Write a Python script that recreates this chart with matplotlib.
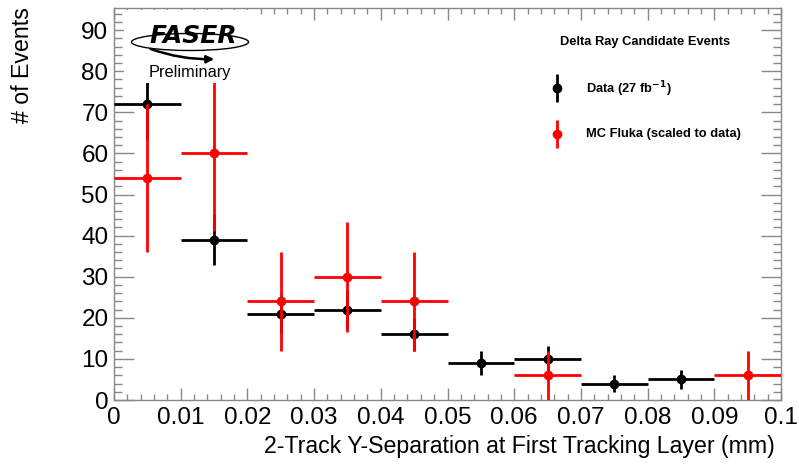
import matplotlib
matplotlib.use("Agg")
import matplotlib.pyplot as plt
from matplotlib.patches import Ellipse, FancyArrowPatch, Rectangle
from matplotlib.ticker import MultipleLocator, FixedLocator
import numpy as np

plt.rcParams['font.family'] = ['Liberation Sans', 'DejaVu Sans']

bin_edges = [0.0, 0.01, 0.02, 0.03, 0.04, 0.05, 0.06, 0.07, 0.08, 0.09, 0.1]
data_counts = [72, 39, 21, 22, 16, 9, 10, 4, 5, 0]
mc_counts = [54, 60, 24, 30, 24, 0, 6, 0, 0, 6]
mc_scale = 6.0
x_ticks = [0, 0.01, 0.02, 0.03, 0.04, 0.05, 0.06, 0.07, 0.08, 0.09, 0.1]
x_tick_labels = ["0", "0.01", "0.02", "0.03", "0.04", "0.05", "0.06", "0.07", "0.08", "0.09", "0.1"]
y_ticks = [0, 10, 20, 30, 40, 50, 60, 70, 80, 90]

fig = plt.figure(figsize=(7.99, 4.66), dpi=100)
ax = fig.add_axes([0.1427, 0.1416, 0.8348, 0.8414])

edges = np.array(bin_edges)
centers = 0.5 * (edges[:-1] + edges[1:])
half = 0.5 * np.diff(edges)

# Poisson errors; the simulation is scaled, so its error grows with sqrt(scale)
data_vals = np.array(data_counts, float)
data_err = np.sqrt(data_vals)
mc_vals = np.array(mc_counts, float)
mc_err = np.sqrt(mc_vals * mc_scale)


def draw_series(vals, errs, color, z):
    keep = vals > 0
    ax.errorbar(centers[keep], vals[keep], xerr=half[keep], yerr=errs[keep],
                fmt='o', color=color, ms=6, elinewidth=2.0, capsize=0,
                zorder=z)


draw_series(data_vals, data_err, 'black', 3)
draw_series(mc_vals, mc_err, '#ff0000', 4)

ax.set_xlim(0, 0.1)
ax.set_ylim(0, 95.4)
ax.xaxis.set_major_locator(FixedLocator(x_ticks))
ax.set_xticklabels(x_tick_labels)
ax.xaxis.set_minor_locator(MultipleLocator(0.002))
ax.yaxis.set_major_locator(FixedLocator(y_ticks))
ax.yaxis.set_minor_locator(MultipleLocator(2))
ax.tick_params(which='both', direction='in', top=True, right=True,
               colors='#888888', labelcolor='black', labelsize=17.5, width=1.0)
ax.tick_params(axis='x', which='major', length=8.6, pad=5)
ax.tick_params(axis='x', which='minor', length=4.3)
ax.tick_params(axis='y', which='major', length=14.4, pad=4)
ax.tick_params(axis='y', which='minor', length=5.8)
for s in ax.spines.values():
    s.set_color('#888888')
    s.set_linewidth(1.0)

fig.text(0.970, 0.018, "2-Track Y-Separation at First Tracking Layer (mm)",
         ha='right', va='bottom', fontsize=16.7)
fig.text(0.014, 0.985, "# of Events", rotation=90, ha='left', va='top',
         fontsize=16.7)

# overlay in pixel coordinates for the legend and the logo
ov = fig.add_axes([0, 0, 1, 1], facecolor='none')
ov.set_xlim(0, 799)
ov.set_ylim(466, 0)
ov.axis('off')

ov.text(560, 42, "Delta Ray Candidate Events", fontsize=9.3,
        fontweight='bold', ha='left', va='center')
ov.errorbar([557], [88], yerr=[[14], [14]], fmt='o', color='black',
            ms=6, elinewidth=2.0, capsize=0)
ov.errorbar([557], [134], yerr=[[14], [14]], fmt='o', color='#ff0000',
            ms=6, elinewidth=2.0, capsize=0)
ov.text(586, 89, r"Data (27 fb$^{\mathbf{-1}}$)", fontsize=9.3,
        fontweight='bold', ha='left', va='center')
ov.text(586, 134, "MC Fluka (scaled to data)", fontsize=9.3,
        fontweight='bold', ha='left', va='center')

# experiment logo on a white card
ov.add_patch(Rectangle((124, 10), 132, 73, facecolor='white',
                       edgecolor='none', zorder=5))
ov.add_patch(Ellipse((190, 42), 117, 17, fill=False, lw=1.0,
                     edgecolor='black', zorder=6))
ov.text(193, 36, "FASER", fontsize=18, fontweight='heavy', style='italic',
        ha='center', va='center', family='DejaVu Sans', zorder=7)
ov.add_patch(FancyArrowPatch((148, 48), (217, 59), arrowstyle='-|>',
                             mutation_scale=11, lw=1.8, color='black',
                             connectionstyle='arc3,rad=0.1', zorder=7))
ov.text(190, 73, "Preliminary", fontsize=11.8, ha='center', va='center',
        zorder=7)

fig.savefig("out.png", dpi=100)
